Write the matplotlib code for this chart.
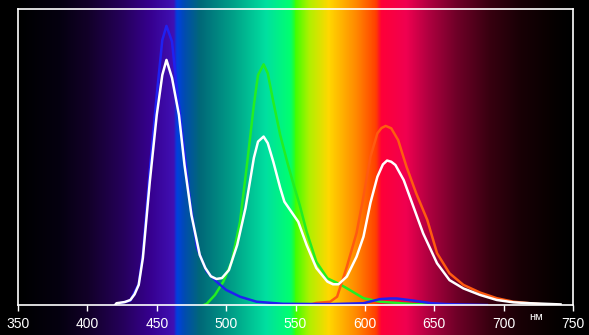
import numpy as np
import matplotlib
matplotlib.use("Agg")
from matplotlib import pyplot as plt
from matplotlib.colors import LinearSegmentedColormap

# spectrum of the screen (white field) and of the R, G, B fields
white_nm = [420, 421, 427, 431, 434, 437, 440, 445, 450, 454, 457, 461, 466, 470, 475,
            481, 485, 489, 493, 497, 502, 508, 514, 520, 523, 527, 530, 534, 539, 542,
            547, 552, 558, 565, 573, 577, 581, 587, 594, 599, 604, 609, 613, 616, 619,
            622, 628, 635, 642, 652, 661, 671, 683, 695, 707, 719, 741]
white_val = [0.0, 0.006, 0.010, 0.017, 0.036, 0.068, 0.159, 0.417, 0.642, 0.777, 0.828,
             0.767, 0.642, 0.473, 0.304, 0.169, 0.125, 0.097, 0.088, 0.091, 0.118, 0.203,
             0.328, 0.497, 0.552, 0.569, 0.547, 0.484, 0.395, 0.349, 0.315, 0.281, 0.203,
             0.125, 0.079, 0.070, 0.070, 0.096, 0.163, 0.231, 0.345, 0.433, 0.475, 0.488,
             0.484, 0.473, 0.422, 0.332, 0.242, 0.141, 0.084, 0.056, 0.034, 0.017, 0.009,
             0.006, 0.002]

blue_nm = [420, 421, 431, 437, 440, 445, 450, 454, 457, 461, 464, 469, 474, 479, 486,
           493, 500, 510, 522, 541, 575, 599, 611, 618, 623, 635, 648, 659, 688]
blue_val = [0.0, 0.003, 0.015, 0.071, 0.172, 0.456, 0.709, 0.895, 0.943, 0.890, 0.754,
            0.552, 0.349, 0.193, 0.113, 0.079, 0.051, 0.028, 0.011, 0.004, 0.003, 0.006,
            0.020, 0.022, 0.022, 0.015, 0.006, 0.003, 0.0]

green_nm = [484, 486, 492, 498, 504, 510, 515, 520, 523, 527, 530, 534, 539, 544, 548,
            553, 558, 565, 573, 582, 589, 599, 611, 635, 660]
green_val = [0.0, 0.004, 0.034, 0.079, 0.146, 0.281, 0.473, 0.676, 0.777, 0.813, 0.783,
             0.687, 0.574, 0.484, 0.417, 0.338, 0.248, 0.146, 0.090, 0.070, 0.051, 0.023,
             0.011, 0.003, 0.0]

red_nm = [560, 565, 575, 580, 587, 594, 599, 604, 609, 612, 615, 619, 624, 630, 637,
          645, 652, 661, 671, 683, 695, 707, 726, 735]
red_val = [0.0, 0.007, 0.011, 0.028, 0.129, 0.243, 0.366, 0.501, 0.580, 0.598, 0.605,
           0.597, 0.557, 0.467, 0.377, 0.287, 0.175, 0.107, 0.068, 0.042, 0.023, 0.011,
           0.003, 0.0]

x_ticks = [350, 400, 450, 500, 550, 600, 650, 700, 750]

# rainbow behind the plot
spectrum_stops = [
    (350, "#000000"), (380, "#050010"), (400, "#120028"), (425, "#25005a"),
    (445, "#36008e"), (462, "#4010b4"), (464.5, "#0040e0"), (470, "#004cb0"),
    (481, "#006878"), (505, "#00a088"), (529, "#00e0a0"), (546, "#00ff70"),
    (549, "#20ff30"), (550, "#40ff00"), (560, "#b0f000"), (574, "#ffd800"),
    (594, "#ff8800"), (608, "#ff4000"), (611, "#ff1028"), (612, "#ff0038"),
    (630, "#f00050"), (646, "#b00040"), (666, "#700028"), (690, "#380010"),
    (713, "#180005"), (738, "#050000"), (750, "#000000"),
]
spec_cmap = LinearSegmentedColormap.from_list(
    "spectrum", [((w - 350) / 400, c) for w, c in spectrum_stops], N=1024)

fig = plt.figure(figsize=(5.89, 3.35), dpi=100, facecolor="black")

left, right, top, bottom = 18 / 589, 573 / 589, 1 - 9 / 335, 1 - 305 / 335

bg = fig.add_axes([left, 0, right - left, 1])
grad = np.linspace(350, 750, 1200).reshape(1, -1)
bg.imshow(grad, aspect="auto", cmap=spec_cmap, vmin=350, vmax=750,
          extent=[350, 750, 0, 1], interpolation="bilinear")
bg.set_axis_off()

ax = fig.add_axes([left, bottom, right - left, top - bottom])
ax.set_facecolor("none")
ax.plot(green_nm, green_val, color="#22ee22", lw=1.8, solid_joinstyle="round")
ax.plot(red_nm, red_val, color="#ff5a10", lw=1.8, solid_joinstyle="round")
ax.plot(blue_nm, blue_val, color="#2020f0", lw=1.8, solid_joinstyle="round")
ax.plot(white_nm, white_val, color="white", lw=1.8, solid_joinstyle="round")

ax.set_xlim(350, 750)
ax.set_ylim(0, 1)
ax.set_xticks(x_ticks)
ax.set_yticks([])
for s in ax.spines.values():
    s.set_color("white")
    s.set_linewidth(1.2)
ax.tick_params(axis="x", colors="white", direction="out", length=4, width=1,
               labelsize=10, pad=5)
for lbl in ax.get_xticklabels():
    lbl.set_family(["Liberation Sans Narrow", "Liberation Sans", "DejaVu Sans"])
    lbl.set_stretch("condensed")

fig.text(536 / 589, 1 - 317 / 335, "нм", color="white", fontsize=8,
         ha="center", va="center", family=["Liberation Sans", "DejaVu Sans"])

fig.savefig("out.png", dpi=100, facecolor="black")
